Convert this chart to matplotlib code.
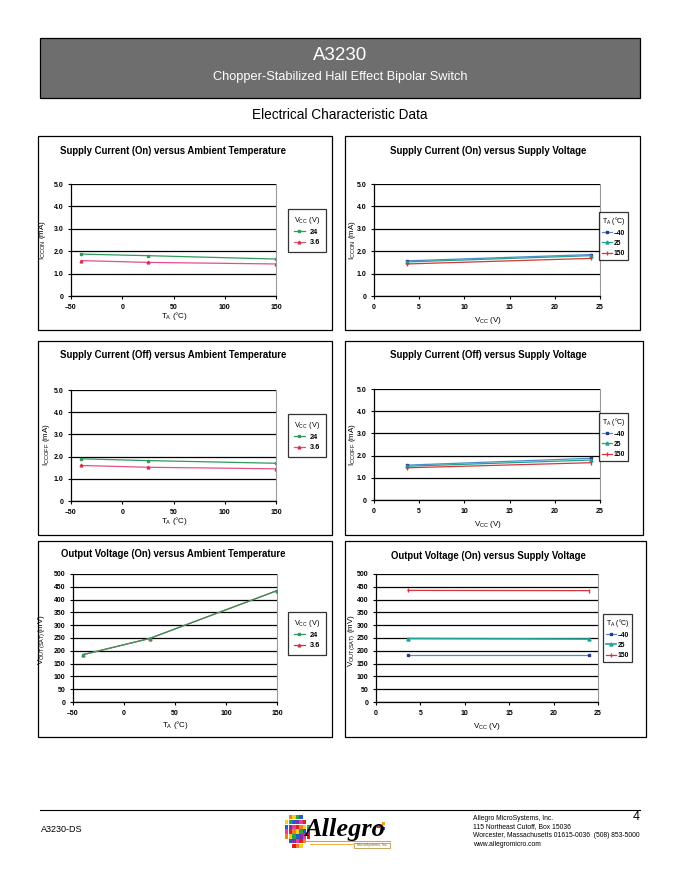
import matplotlib
matplotlib.use("Agg")
import matplotlib.pyplot as plt
from matplotlib.patches import Rectangle, Ellipse
from matplotlib.lines import Line2D

plt.rcParams['font.family'] = ['Liberation Sans', 'DejaVu Sans']
plt.rcParams['mathtext.fontset'] = 'custom'
plt.rcParams['mathtext.rm'] = 'Liberation Sans'
plt.rcParams['mathtext.it'] = 'Liberation Sans:italic'
plt.rcParams['mathtext.bf'] = 'Liberation Sans:bold'

W, H = 680, 880

# ---------------- data ----------------
ta = [-40, 25, 150]
vcc = [3.6, 24]

icc_on_ta_24 = [1.87, 1.80, 1.65]
icc_on_ta_36 = [1.58, 1.50, 1.43]

icc_on_vcc_m40 = [1.57, 1.85]
icc_on_vcc_25 = [1.52, 1.80]
icc_on_vcc_150 = [1.43, 1.68]

icc_off_ta_24 = [1.90, 1.82, 1.70]
icc_off_ta_36 = [1.60, 1.52, 1.45]

icc_off_vcc_m40 = [1.57, 1.88]
icc_off_vcc_25 = [1.52, 1.80]
icc_off_vcc_150 = [1.45, 1.68]

vout_ta_24 = [185, 248, 435]
vout_ta_36 = [185, 248, 435]

vout_vcc_m40 = [185, 185]
vout_vcc_25 = [248, 246]
vout_vcc_150 = [436, 435]

ta_ticks = [-50, 0, 50, 100, 150]
ta_ticklabels = ['\u201350', '0', '50', '100', '150']
vcc_ticks = [0, 5, 10, 15, 20, 25]
vcc_ticklabels = ['0', '5', '10', '15', '20', '25']
icc_ticks = [0, 1, 2, 3, 4, 5]
icc_ticklabels = ['0', '1.0', '2.0', '3.0', '4.0', '5.0']
vout_ticks = list(range(0, 501, 50))
vout_ticklabels = [str(v) for v in vout_ticks]

vcc_legend = ['24', '3.6']
ta_legend = ['\u201340', '25', '150']

# ---------------- styles ----------------
C24 = '#2f9a5c'
C36_line = '#e2508a'
C36_mk = '#d83048'
CM40_line = '#4f8cc8'
CM40_mk = '#26388c'
C25 = '#1fa392'
C150 = '#d8343a'

fig = plt.figure(figsize=(W / 100, H / 100), dpi=100)


def frect(l, t, r, b):
    return [l / W, 1 - b / H, (r - l) / W, (b - t) / H]


def fx(x):
    return x / W


def fy(y):
    return 1 - y / H


def panel_box(l, t, r, b):
    fig.patches.append(Rectangle((fx(l), fy(b)), (r - l) / W, (b - t) / H,
                                 transform=fig.transFigure, fill=False,
                                 ec='black', lw=0.9))


def setup_axes(rect, xlim, xticks, xtl, ylim, yticks, ytl):
    ax = fig.add_axes(frect(*rect))
    ax.set_xlim(*xlim)
    ax.set_ylim(*ylim)
    ax.set_xticks(xticks)
    ax.set_xticklabels(xtl, fontsize=5.0, fontweight='bold')
    ax.set_yticks(yticks)
    ax.set_yticklabels(ytl, fontsize=5.0, fontweight='bold')
    ax.yaxis.grid(True, color='black', lw=0.9)
    ax.set_axisbelow(True)
    ax.spines['top'].set_visible(False)
    ax.spines['right'].set_color('#9a9a9a')
    ax.spines['right'].set_linewidth(0.8)
    ax.spines['left'].set_linewidth(0.9)
    ax.spines['bottom'].set_linewidth(0.9)
    ax.tick_params(direction='out', length=2.5, width=0.8, pad=3)
    return ax


def make_legend(handles, labels, title, l, t, narrow=False):
    if narrow:
        kw = dict(fontsize=4.9, title_fontsize=5.0, borderpad=0.4, handlelength=1.35,
                  handletextpad=0.3, labelspacing=0.45)
    else:
        kw = dict(fontsize=5.3, title_fontsize=5.3, borderpad=0.75, handlelength=1.6,
                  handletextpad=0.6, labelspacing=0.45)
    leg = fig.legend(handles, labels, title=title, loc='upper left',
                     bbox_to_anchor=(fx(l), fy(t)), bbox_transform=fig.transFigure,
                     frameon=True, fancybox=False, borderaxespad=0,
                     edgecolor='black', **kw)
    leg.get_frame().set_linewidth(0.9)
    for txt in leg.get_texts():
        txt.set_fontweight('bold')
    return leg


# ---------------- header ----------------
fig.patches.append(Rectangle((fx(40), fy(98)), 600 / W, 60 / H,
                             transform=fig.transFigure, fc='#6e6e6e',
                             ec='black', lw=0.9))
fig.text(fx(340), fy(55), 'A3230', ha='center', va='center', color='white', fontsize=13.5)
fig.text(fx(340), fy(77), 'Chopper-Stabilized Hall Effect Bipolar Switch',
         ha='center', va='center', color='white', fontsize=9.2)
fig.text(fx(340), fy(115), 'Electrical Characteristic Data', ha='center',
         va='center', color='black', fontsize=9.8)

TITLE_FS = 6.9
LABEL_FS = 5.8

# ---------------- panel 1 ----------------
panel_box(38, 136, 332, 330)
fig.text(fx(60), fy(151), 'Supply Current (On) versus Ambient Temperature',
         ha='left', va='center', fontsize=TITLE_FS, fontweight='bold')
ax1 = setup_axes((71, 184, 276, 296), (-50, 150), ta_ticks, ta_ticklabels,
                 (0, 5), icc_ticks, icc_ticklabels)
l24, = ax1.plot(ta, icc_on_ta_24, color=C24, lw=0.9, marker='s', ms=2.0, mfc=C24, mec=C24)
l36, = ax1.plot(ta, icc_on_ta_36, color=C36_line, lw=0.9, marker='^', ms=2.0, mfc=C36_mk, mec=C36_mk)
fig.text(fx(174), fy(316), '$\\mathregular{T_A}$ (\u00b0C)', ha='center', va='center', fontsize=LABEL_FS)
fig.text(fx(42), fy(240), '$\\mathregular{I_{CCON}}$ (mA)', ha='center', va='center',
         rotation=90, fontsize=LABEL_FS)
make_legend([l24, l36], vcc_legend, '$\\mathregular{V_{CC}}$ (V)', 288, 209)

# ---------------- panel 2 ----------------
panel_box(345, 136, 640, 330)
fig.text(fx(488), fy(151), 'Supply Current (On) versus Supply Voltage',
         ha='center', va='center', fontsize=TITLE_FS, fontweight='bold')
ax2 = setup_axes((374, 184, 600, 296), (0, 25), vcc_ticks, vcc_ticklabels,
                 (0, 5), icc_ticks, icc_ticklabels)
a, = ax2.plot(vcc, icc_on_vcc_m40, color=CM40_line, lw=0.9, marker='s', ms=2.0, mfc=CM40_mk, mec=CM40_mk)
b, = ax2.plot(vcc, icc_on_vcc_25, color=C25, lw=0.9, marker='^', ms=2.2, mfc=C25, mec=C25)
c, = ax2.plot(vcc, icc_on_vcc_150, color=C150, lw=0.9, marker='|', ms=2.5, mfc=C150, mec=C150)
fig.text(fx(488), fy(321), '$\\mathregular{V_{CC}}$ (V)', ha='center', va='center', fontsize=LABEL_FS)
fig.text(fx(352), fy(240), '$\\mathregular{I_{CCON}}$ (mA)', ha='center', va='center',
         rotation=90, fontsize=LABEL_FS)
make_legend([a, b, c], ta_legend, '$\\mathregular{T_A}$ (\u00b0C)', 599, 212, narrow=True)

# ---------------- panel 3 ----------------
panel_box(38, 341, 332, 535)
fig.text(fx(60), fy(355), 'Supply Current (Off) versus Ambient Temperature',
         ha='left', va='center', fontsize=TITLE_FS, fontweight='bold')
ax3 = setup_axes((71, 390, 276, 501), (-50, 150), ta_ticks, ta_ticklabels,
                 (0, 5), icc_ticks, icc_ticklabels)
l24, = ax3.plot(ta, icc_off_ta_24, color=C24, lw=0.9, marker='s', ms=2.0, mfc=C24, mec=C24)
l36, = ax3.plot(ta, icc_off_ta_36, color=C36_line, lw=0.9, marker='^', ms=2.0, mfc=C36_mk, mec=C36_mk)
fig.text(fx(174), fy(521), '$\\mathregular{T_A}$ (\u00b0C)', ha='center', va='center', fontsize=LABEL_FS)
fig.text(fx(47), fy(445), '$\\mathregular{I_{CCOFF}}$ (mA)', ha='center', va='center',
         rotation=90, fontsize=LABEL_FS)
make_legend([l24, l36], vcc_legend, '$\\mathregular{V_{CC}}$ (V)', 288, 414)

# ---------------- panel 4 ----------------
panel_box(345, 341, 643, 535)
fig.text(fx(488), fy(355), 'Supply Current (Off) versus Supply Voltage',
         ha='center', va='center', fontsize=TITLE_FS, fontweight='bold')
ax4 = setup_axes((374, 389, 600, 500), (0, 25), vcc_ticks, vcc_ticklabels,
                 (0, 5), icc_ticks, icc_ticklabels)
a, = ax4.plot(vcc, icc_off_vcc_m40, color=CM40_line, lw=0.9, marker='s', ms=2.0, mfc=CM40_mk, mec=CM40_mk)
b, = ax4.plot(vcc, icc_off_vcc_25, color=C25, lw=0.9, marker='^', ms=2.2, mfc=C25, mec=C25)
c, = ax4.plot(vcc, icc_off_vcc_150, color=C150, lw=0.9, marker='|', ms=2.5, mfc=C150, mec=C150)
fig.text(fx(488), fy(524), '$\\mathregular{V_{CC}}$ (V)', ha='center', va='center', fontsize=LABEL_FS)
fig.text(fx(352), fy(445), '$\\mathregular{I_{CCOFF}}$ (mA)', ha='center', va='center',
         rotation=90, fontsize=LABEL_FS)
make_legend([a, b, c], ta_legend, '$\\mathregular{T_A}$ (\u00b0C)', 599, 413, narrow=True)

# ---------------- panel 5 ----------------
panel_box(38, 541, 332, 737)
fig.text(fx(61), fy(554), 'Output Voltage (On) versus Ambient Temperature',
         ha='left', va='center', fontsize=TITLE_FS, fontweight='bold')
ax5 = setup_axes((73, 574, 277, 702), (-50, 150), ta_ticks, ta_ticklabels,
                 (0, 500), vout_ticks, vout_ticklabels)
l36, = ax5.plot(ta, vout_ta_36, color=C36_mk, lw=0.9, marker='^', ms=2.0, mfc=C36_mk, mec=C36_mk, zorder=2)
l24, = ax5.plot(ta, vout_ta_24, color=C24, lw=0.9, marker='s', ms=2.0, mfc=C24, mec=C24, zorder=3)
fig.text(fx(175), fy(725), '$\\mathregular{T_A}$ (\u00b0C)', ha='center', va='center', fontsize=LABEL_FS)
fig.text(fx(42), fy(640), '$\\mathregular{V_{OUT(SAT)}}$(mV)', ha='center', va='center',
         rotation=90, fontsize=LABEL_FS)
make_legend([l24, l36], vcc_legend, '$\\mathregular{V_{CC}}$ (V)', 288, 612)

# ---------------- panel 6 ----------------
panel_box(345, 541, 646, 737)
fig.text(fx(488), fy(556), 'Output Voltage (On) versus Supply Voltage',
         ha='center', va='center', fontsize=TITLE_FS, fontweight='bold')
ax6 = setup_axes((376, 574, 598, 702), (0, 25), vcc_ticks, vcc_ticklabels,
                 (0, 500), vout_ticks, vout_ticklabels)
a, = ax6.plot(vcc, vout_vcc_m40, color=CM40_line, lw=0.9, marker='s', ms=2.0, mfc=CM40_mk, mec=CM40_mk)
b, = ax6.plot(vcc, vout_vcc_25, color=C25, lw=1.2, marker='^', ms=2.2, mfc=C25, mec=C25)
c, = ax6.plot(vcc, vout_vcc_150, color=C150, lw=0.9, marker='|', ms=2.5, mfc=C150, mec=C150)
fig.text(fx(487), fy(726), '$\\mathregular{V_{CC}}$ (V)', ha='center', va='center', fontsize=LABEL_FS)
fig.text(fx(352), fy(640), '$\\mathregular{V_{OUT(SAT)}}$ (mV)', ha='center', va='center',
         rotation=90, fontsize=LABEL_FS)
make_legend([a, b, c], ta_legend, '$\\mathregular{T_A}$ (\u00b0C)', 603, 614, narrow=True)

# ---------------- footer ----------------
fig.lines.append(Line2D([fx(40), fx(640)], [fy(810), fy(810)], transform=fig.transFigure,
                        color='black', lw=0.8))
fig.text(fx(41), fy(829), 'A3230-DS', ha='left', va='center', fontsize=6.5)
fig.text(fx(640), fy(817), '4', ha='right', va='center', fontsize=9)
addr = ['Allegro MicroSystems, Inc.', '115 Northeast Cutoff, Box 15036',
        'Worcester, Massachusetts 01615-0036  (508) 853-5000', 'www.allegromicro.com']
for i, s in enumerate(addr):
    fig.text(fx(473), fy(818 + 8.7 * i), s, ha='left', va='center', fontsize=4.9)

# logo
logo_colors = ['#e02020', '#f08020', '#f0d020', '#30a040', '#2060c0', '#8030a0', '#e040a0']
lax = fig.add_axes(frect(284, 812, 392, 852))
lax.set_xlim(0, 108)
lax.set_ylim(40, 0)
lax.axis('off')
for i in range(7):
    for j in range(7):
        cx, cy = 1 + i * 3.6, 3 + j * 4.8
        if (cx + 1.8 - 13) ** 2 + ((cy + 2.4 - 19) * 0.75) ** 2 < 150:
            lax.add_patch(Rectangle((cx, cy), 3.3, 4.4, color=logo_colors[(i + 2 * j) % 7], lw=0))
lax.text(20, 17, 'Allegro', fontsize=19, fontweight='bold', fontstyle='italic',
         family='Liberation Serif', ha='left', va='center', color='black')
lax.plot([20, 106], [29, 29], color='#f0a020', lw=0.8)
lax.plot([26, 70], [32, 32], color='#f0a020', lw=0.6)
lax.add_patch(Rectangle((70, 30.5), 36, 5, fill=False, ec='#b08020', lw=0.5))
lax.text(88, 33.2, 'MicroSystems, Inc.', fontsize=2.6, ha='center', va='center', color='#806010')
lax.add_patch(Rectangle((93, 13), 3, 3, color='#d03030', lw=0))
lax.add_patch(Rectangle((98, 10), 3, 3, color='#f0a020', lw=0))
lax.add_patch(Rectangle((98, 15), 3, 3, color='#3050c0', lw=0))

fig.savefig('out.png', dpi=100)
